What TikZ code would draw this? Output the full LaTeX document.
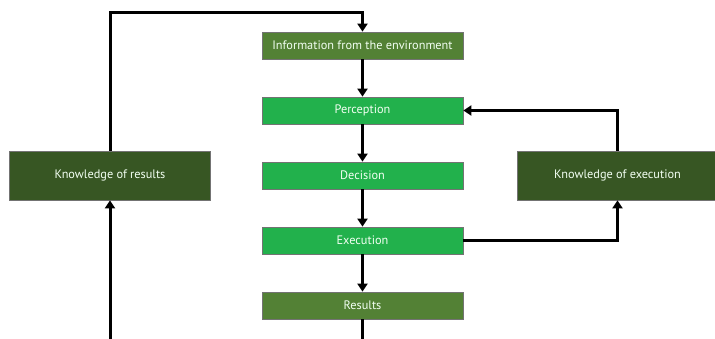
\documentclass[tikz,border=0pt]{standalone}
\usepackage{fontspec}
\setmainfont{PT Sans}
\usetikzlibrary{arrows.meta}
\definecolor{olive}{HTML}{538135}
\definecolor{bright}{HTML}{22B14C}
\definecolor{dark}{HTML}{375623}
\tikzset{
  box/.style={draw=black!55, line width=0.8pt, text=white!95!green, minimum width=201pt, minimum height=27pt, inner sep=0pt, font=\fontsize{12.3}{14}\selectfont},
  flow/.style={line width=3pt, -{Triangle[width=10pt,length=8pt]}},
  plain/.style={line width=3pt}
}
\begin{document}
\begin{tikzpicture}[x=1pt,y=-1pt]
            \useasboundingbox (0,0) rectangle (715,339);
            \node[box,fill=olive] (info) at (362.5,45.5) {Information from the environment};
            \node[box,fill=bright] (per) at (362.5,110.5) {Perception};
            \node[box,fill=bright] (dec) at (362.5,175.5) {Decision};
            \node[box,fill=bright] (exe) at (362.5,240.5) {Execution};
            \node[box,fill=olive] (res) at (362.5,305.5) {Results};
            \node[box,fill=dark,minimum height=49pt] (kor) at (110,175.5) {Knowledge of results};
            \node[box,fill=dark,minimum height=49pt] (koe) at (617.5,175.5) {Knowledge of execution};
            % loose ends of the feedback lines
            \coordinate (top) at (110,13);
            \coordinate (low1) at (110,345);
            \coordinate (low2) at (362.5,345);

            \draw[flow] (info) -- (per);
            \draw[flow] (per) -- (dec);
            \draw[flow] (dec) -- (exe);
            \draw[flow] (exe) -- (res);
            \draw[plain] (res) -- (low2);
            \draw[flow] (low1) -- (kor);
            \draw[flow] (kor.north) -- (top) -| (info.north);
            \draw[flow] (exe.east) -| (koe.south);
            \draw[flow] (koe.north) |- (per.east);
            \end{tikzpicture}
\end{document}
